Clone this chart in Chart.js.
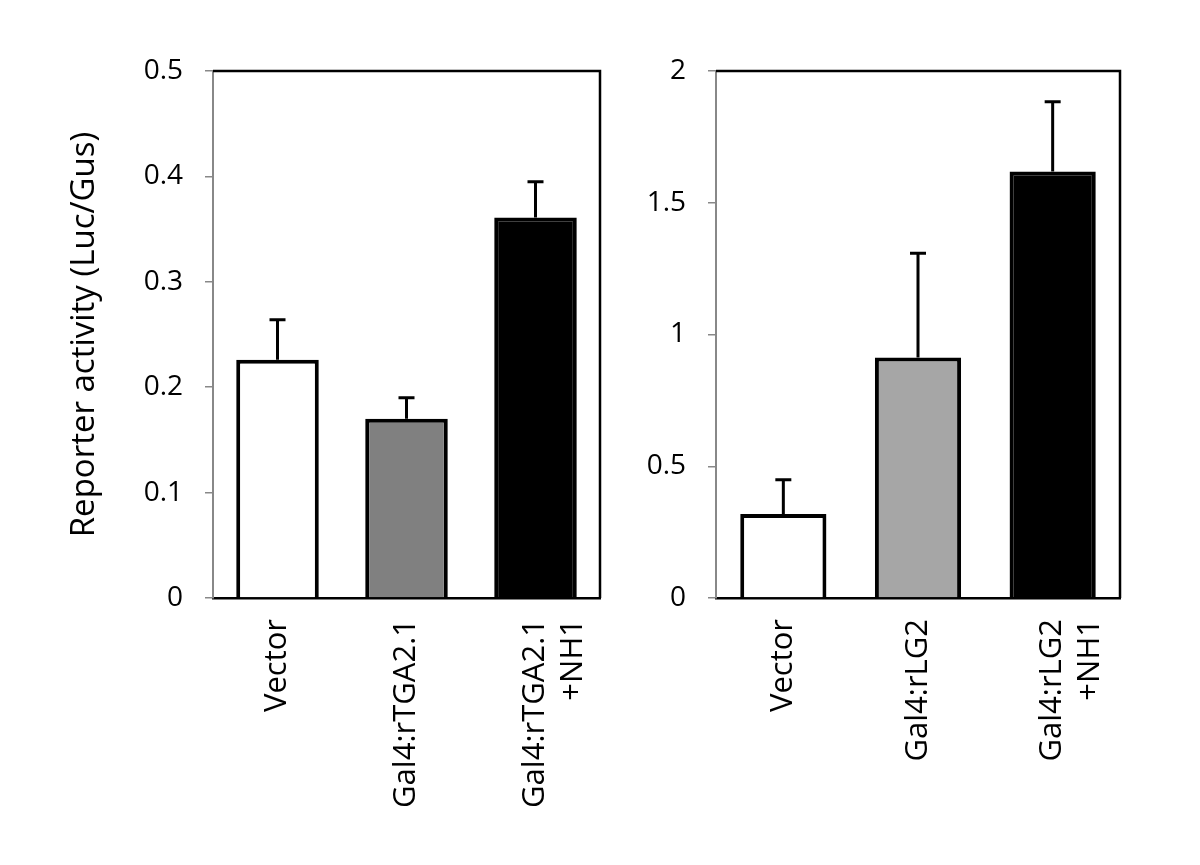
<!DOCTYPE html>
<html>
<head>
<meta charset="utf-8">
<script src="https://cdn.jsdelivr.net/npm/chart.js@4/dist/chart.umd.min.js"></script>
<style>
  body { margin: 0; background: #fff; }
  #wrap { position: relative; width: 1200px; height: 865px; }
  canvas { position: absolute; top: 0; }
</style>
</head>
<body>
<div id="wrap">
  <canvas id="left" width="630" height="865" style="left:0"></canvas>
  <canvas id="right" width="570" height="865" style="left:630px"></canvas>
</div>
<script>
// left panel data
const leftLabels = ['Vector', 'Gal4:rTGA2.1', ['Gal4:rTGA2.1', '+NH1']]
const leftValues = [0.226, 0.170, 0.361]
const leftErrors = [0.038, 0.020, 0.034]
const leftColors = ['#ffffff', '#808080', '#000000']

// right panel data
const rightLabels = ['Vector', 'Gal4:rLG2', ['Gal4:rLG2', '+NH1']]
const rightValues = [0.319, 0.913, 1.619]
const rightErrors = [0.130, 0.395, 0.264]
const rightColors = ['#ffffff', '#a6a6a6', '#000000']

const FONT = '"Open Sans", "Noto Sans", sans-serif'

// upper error bars, drawn from the bar scale
const errorBars = {
  id: 'errorBars',
  afterDatasetsDraw(chart) {
    const ctx = chart.ctx
    const yScale = chart.scales.y
    chart.data.datasets.forEach((ds, di) => {
      const meta = chart.getDatasetMeta(di)
      meta.data.forEach((bar, i) => {
        const top = yScale.getPixelForValue(ds.data[i] + ds.errorPlus[i])
        ctx.save()
        ctx.strokeStyle = '#000'
        ctx.lineWidth = 3
        ctx.beginPath()
        ctx.moveTo(bar.x, bar.y)
        ctx.lineTo(bar.x, top)
        ctx.moveTo(bar.x - 8, top)
        ctx.lineTo(bar.x + 8, top)
        ctx.stroke()
        ctx.restore()
      })
    })
  }
}

// black frame on top and right of the plot
const frame = {
  id: 'frame',
  afterDraw(chart) {
    const a = chart.chartArea
    const ctx = chart.ctx
    ctx.save()
    ctx.strokeStyle = '#000'
    ctx.lineWidth = 2.5
    ctx.beginPath()
    ctx.moveTo(a.left, a.top)
    ctx.lineTo(a.right, a.top)
    ctx.lineTo(a.right, a.bottom)
    ctx.stroke()
    ctx.restore()
  }
}

const makeChart = (id, labels, values, errors, colors, yMax, yStep, yWidth, padLeft, padRight, showTitle) => {
  new Chart(id, {
    type: 'bar',
    data: {
      labels: labels,
      datasets: [{
        data: values,
        errorPlus: errors,
        backgroundColor: colors,
        borderColor: '#000',
        borderWidth: 4,
        borderSkipped: 'bottom',
        categoryPercentage: 1,
        barPercentage: 0.64
      }]
    },
    options: {
      responsive: false,
      animation: false,
      layout: { padding: { top: 71, right: padRight, left: padLeft, bottom: 0 } },
      plugins: { legend: { display: false }, tooltip: { enabled: false } },
      scales: {
        x: {
          grid: { display: false },
          border: { color: '#000', width: 2.5 },
          ticks: {
            color: '#000',
            minRotation: 90,
            maxRotation: 90,
            padding: 13,
            font: { family: FONT, size: 31 }
          },
          afterFit: (s) => { s.height = 267 }
        },
        y: {
          min: 0,
          max: yMax,
          ticks: {
            stepSize: yStep,
            color: '#000',
            padding: 22,
            font: { family: FONT, size: 28 },
            callback: (v) => String(+v.toFixed(2))
          },
          grid: { drawOnChartArea: false, drawTicks: true, tickLength: 8, color: '#888', lineWidth: 1.5 },
          border: { color: '#888', width: 2 },
          title: {
            display: showTitle,
            text: 'Reporter activity (Luc/Gus)',
            color: '#000',
            padding: 0,
            font: { family: FONT, size: 33 }
          },
          afterFit: (s) => { s.width = yWidth }
        }
      }
    },
    plugins: [errorBars, frame]
  })
}

makeChart('left', leftLabels, leftValues, leftErrors, leftColors, 0.5, 0.1, 148, 65, 30, true)
makeChart('right', rightLabels, rightValues, rightErrors, rightColors, 2, 0.5, 86, 0, 80, false)
</script>
</body>
</html>
